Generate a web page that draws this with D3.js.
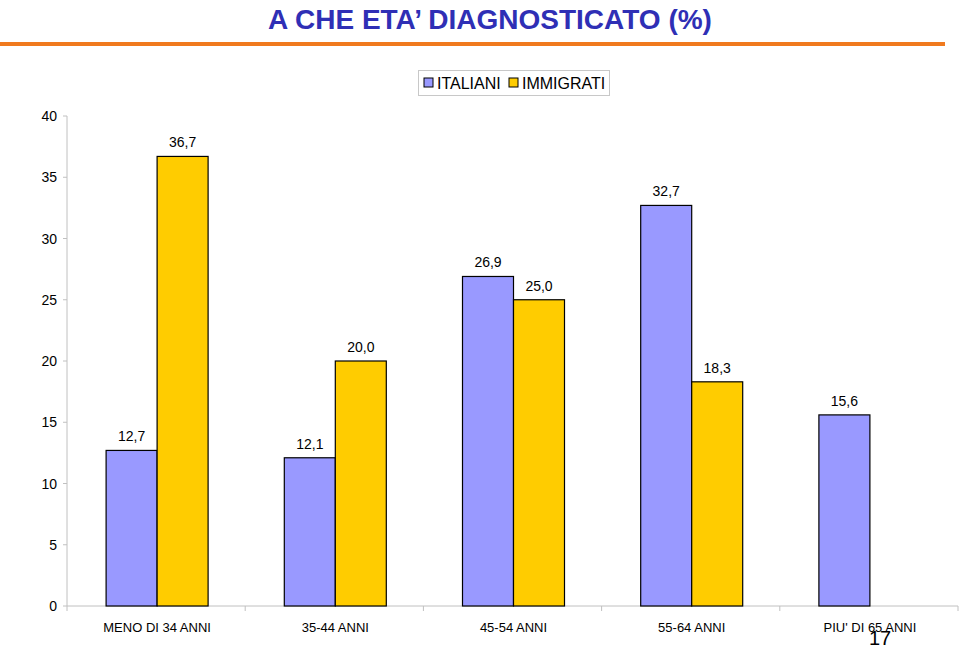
<!DOCTYPE html>
<html>
<head>
<meta charset="utf-8">
<script src="https://cdn.jsdelivr.net/npm/d3@7"></script>
<style>
  body { margin: 0; background: #fff; }
  svg { font-family: "Liberation Sans", Arial, sans-serif; }
</style>
</head>
<body>
<div id="app"></div>
<script>
// data
var categories = ["MENO DI 34 ANNI", "35-44 ANNI", "45-54 ANNI", "55-64 ANNI", "PIU' DI 65 ANNI"];
var seriesNames = ["ITALIANI", "IMMIGRATI"];
var italiani = [12.7, 12.1, 26.9, 32.7, 15.6];
var immigrati = [36.7, 20.0, 25.0, 18.3, null];
var yTicks = [0, 5, 10, 15, 20, 25, 30, 35, 40];
var colors = ["#9999FF", "#FFCC00"];

var width = 960, height = 647;
var margin = {left: 67, right: 2, top: 116, bottom: 41};

var svg = d3.select("#app").append("svg")
    .attr("width", width)
    .attr("height", height);

// title
svg.append("text")
    .attr("x", 490).attr("y", 29)
    .attr("text-anchor", "middle")
    .attr("font-size", 28).attr("font-weight", "bold")
    .attr("fill", "#2F2FB5")
    .text("A CHE ETA\u2019 DIAGNOSTICATO (%)");

svg.append("rect")
    .attr("x", 0).attr("y", 42)
    .attr("width", 945).attr("height", 4)
    .attr("fill", "#F07A1E");

// scales
var x = d3.scaleBand()
    .domain(categories)
    .range([margin.left, width - margin.right]);
var y = d3.scaleLinear()
    .domain([0, 40])
    .range([height - margin.bottom, margin.top]);
var barW = 51;

// y axis
svg.append("line")
    .attr("x1", margin.left).attr("x2", margin.left)
    .attr("y1", y(40)).attr("y2", y(0))
    .attr("stroke", "#c0c0c0");
var yt = svg.append("g").selectAll("g").data(yTicks).enter().append("g");
yt.append("line")
    .attr("x1", margin.left - 4).attr("x2", margin.left)
    .attr("y1", function(d) { return y(d); }).attr("y2", function(d) { return y(d); })
    .attr("stroke", "#c0c0c0");
yt.append("text")
    .attr("x", margin.left - 10)
    .attr("y", function(d) { return y(d) + 5; })
    .attr("text-anchor", "end")
    .attr("font-size", 14)
    .text(function(d) { return d; });

// x axis
svg.append("line")
    .attr("x1", margin.left).attr("x2", x.range()[1])
    .attr("y1", y(0)).attr("y2", y(0))
    .attr("stroke", "#c0c0c0");
var xt = d3.range(categories.length + 1).map(function(i) { return margin.left + i * x.step(); });
svg.append("g").selectAll("line").data(xt).enter().append("line")
    .attr("x1", function(d) { return d; }).attr("x2", function(d) { return d; })
    .attr("y1", y(0)).attr("y2", y(0) + 5)
    .attr("stroke", "#c0c0c0");
svg.append("g").selectAll("text").data(categories).enter().append("text")
    .attr("x", function(d) { return x(d) + x.bandwidth() / 2 + 1; })
    .attr("y", 632)
    .attr("text-anchor", "middle")
    .attr("font-size", 13)
    .text(function(d) { return d; });

// bars
var series = [italiani, immigrati];
series.forEach(function(vals, s) {
  var data = categories.map(function(c, i) { return {cat: c, v: vals[i]}; })
      .filter(function(d) { return d.v != null; });
  var g = svg.append("g").attr("class", "series" + s);
  g.selectAll("rect").data(data).enter().append("rect")
      .attr("x", function(d) { return x(d.cat) + x.bandwidth() / 2 + 1 - barW + s * barW; })
      .attr("y", function(d) { return y(d.v); })
      .attr("width", barW)
      .attr("height", function(d) { return y(0) - y(d.v); })
      .attr("fill", colors[s])
      .attr("stroke", "#000")
      .attr("stroke-width", 1.2);
  g.selectAll("text").data(data).enter().append("text")
      .attr("x", function(d) { return x(d.cat) + x.bandwidth() / 2 + 1 - barW / 2 + s * barW; })
      .attr("y", function(d) { return y(d.v) - 9; })
      .attr("text-anchor", "middle")
      .attr("font-size", 14)
      .text(function(d) { return d3.format(".1f")(d.v).replace(".", ","); });
});

// legend
var leg = svg.append("g");
leg.append("rect")
    .attr("x", 418.5).attr("y", 70.5).attr("width", 191).attr("height", 25)
    .attr("fill", "#fff").attr("stroke", "#c8c8c8");
var legX = [424, 509];
seriesNames.forEach(function(n, i) {
  leg.append("rect")
      .attr("x", legX[i]).attr("y", 78).attr("width", 9).attr("height", 9)
      .attr("fill", colors[i]).attr("stroke", "#000");
  leg.append("text")
      .attr("x", legX[i] + 13).attr("y", 89)
      .attr("font-size", 16)
      .text(n);
});

// page number
svg.append("text")
    .attr("x", 880).attr("y", 645)
    .attr("text-anchor", "middle")
    .attr("font-size", 20)
    .text("17");
</script>
</body>
</html>
